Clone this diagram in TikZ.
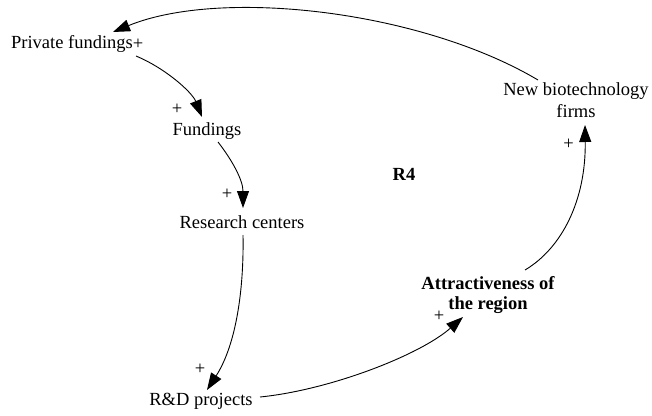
\documentclass[tikz,border=0pt]{standalone}
\usepackage{fontspec}
\setmainfont{Liberation Serif}
\usetikzlibrary{arrows.meta}
\begin{document}
\begin{tikzpicture}[x=1pt,y=-1pt,
  every node/.style={inner sep=0pt,outer sep=0pt,font=\fontsize{18.5}{21}\selectfont},
  var/.style={anchor=base},
  twoline/.style={align=center},
  pol/.style={},
  link/.style={line width=0.9pt,-{Triangle[length=17pt,width=12pt]}}]
\useasboundingbox (0,0) rectangle (652,415);

% variables of the loop
\node[var] (pf) at (72,48) {Private fundings};
\node[var] (fu) at (207,135) {Fundings};
\node[var] (rc) at (242,228) {Research centers};
\node[var] (rd) at (201,405) {R\&D projects};
\node[twoline,font=\fontsize{18.5}{20}\selectfont\bfseries] (at) at (488,295.5) {Attractiveness of\\the region};
\node[twoline,font=\fontsize{18.5}{22}\selectfont] (nb) at (576,100.5) {New biotechnology\\firms};
\node[var,font=\fontsize{18.5}{21}\selectfont\bfseries] (r4) at (404,180) {R4};

% polarity signs
\node[pol] (s1) at (138,44) {+};
\node[pol] (s2) at (177,109) {+};
\node[pol] (s3) at (227,194) {+};
\node[pol] (s4) at (200,369) {+};
\node[pol] (s5) at (439,316.5) {+};
\node[pol] (s6) at (568.5,144) {+};

% causal links
\draw[link] ([shift={(-38,-20.5)}]nb.center) .. controls (420,10) and (220,-12) .. ([shift={(41,-16)}]pf.base);
\draw[link] ([shift={(64,8)}]pf.base) .. controls (165,68) and (192,92) .. ([shift={(-5,-18)}]fu.base);
\draw[link] ([shift={(11,7)}]fu.base) .. controls (232,160) and (243,180) .. ([shift={(1,-20)}]rc.base);
\draw[link] ([shift={(1,7)}]rc.base) .. controls (244,290) and (236,345) .. ([shift={(6,-15)}]rd.base);
\draw[link] ([shift={(59,-8)}]rd.base) .. controls (330,390) and (420,355) .. ([shift={(-25,21.5)}]at.center);
\draw[link] ([shift={(37,-25.5)}]at.center) .. controls (562,248) and (586,200) .. ([shift={(9,24.5)}]nb.center);
\end{tikzpicture}
\end{document}
